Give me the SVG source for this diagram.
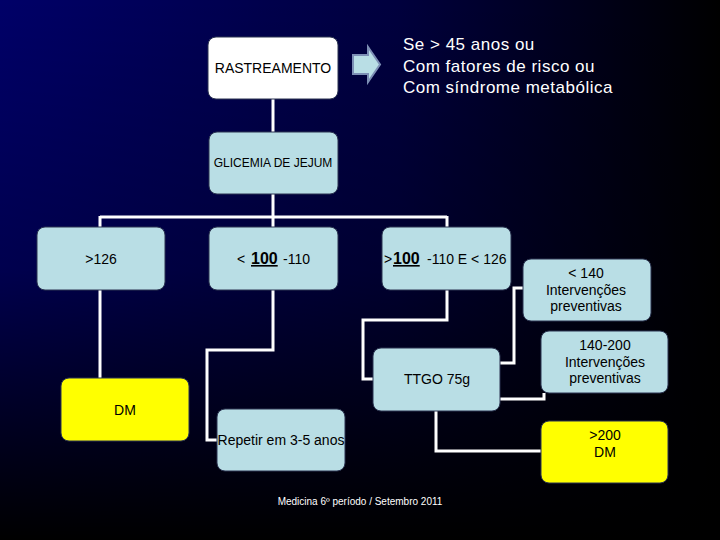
<svg xmlns="http://www.w3.org/2000/svg" width="720" height="540" viewBox="0 0 720 540">
<defs>
<linearGradient id="bgH" x1="0" y1="0" x2="1" y2="0">
<stop offset="0" stop-color="#000068"/>
<stop offset="0.55" stop-color="#00003e"/>
<stop offset="1" stop-color="#000000"/>
</linearGradient>
<linearGradient id="bgV" x1="0" y1="0" x2="0" y2="1">
<stop offset="0" stop-color="#000000" stop-opacity="0"/>
<stop offset="0.5" stop-color="#000000" stop-opacity="0.25"/>
<stop offset="1" stop-color="#000000" stop-opacity="1"/>
</linearGradient>
<style>
.box{fill:#b9dee5;stroke:#2a3350;stroke-width:1}
.white{fill:#ffffff;stroke:#2a3350;stroke-width:1}
.yel{fill:#ffff00;stroke:#2a3350;stroke-width:1}
.t{font-family:"Liberation Sans",Arial,sans-serif;font-size:14px;fill:#000000}
.c{text-anchor:middle}
.b{font-size:16px;font-weight:bold;text-decoration:underline}
.big{font-family:"Liberation Sans",Arial,sans-serif;font-size:17px;fill:#ffffff;letter-spacing:0.5px}
.foot{font-family:"Liberation Sans",Arial,sans-serif;font-size:10px;fill:#ffffff;text-anchor:middle}
.conn{fill:none;stroke:#ffffff;stroke-width:3;stroke-linejoin:miter}
</style>
</defs>
<rect x="0" y="0" width="720" height="540" fill="url(#bgH)"/>
<rect x="0" y="0" width="720" height="540" fill="url(#bgV)"/>

<g id="connectors">
<path class="conn" d="M273,99 V132"/>
<path class="conn" d="M273,194 V217 M100,217 H447 M100,216 V227 M273,217 V227 M447,216 V227"/>
<path class="conn" d="M100,290 V378"/>
<path class="conn" d="M273,290 V350 H207 V440 H217"/>
<path class="conn" d="M447,290 V320 H363 V379 H373"/>
<path class="conn" d="M500,363 H514 V288 H523"/>
<path class="conn" d="M500,399 H544 V393"/>
<path class="conn" d="M436,411 V451 H541"/>
</g>

<g id="rastreamento">
<rect class="white" x="208" y="37" width="130" height="62" rx="8"/>
<text class="t c" x="273" y="73">RASTREAMENTO</text>
</g>

<g id="arrow">
<polygon points="353,55 368,55 368,47 380,64.5 368,82 368,74 353,74" fill="#b9dee5" stroke="#7d8fb5" stroke-width="2"/>
</g>

<g id="criteria">
<text class="big" x="403" y="50">Se &gt; 45 anos ou</text>
<text class="big" x="403" y="71.5">Com fatores de risco ou</text>
<text class="big" x="403" y="93">Com síndrome metabólica</text>
</g>

<g id="glicemia">
<rect class="box" x="209" y="132" width="129" height="62" rx="8"/>
<text class="t c" x="273" y="167" style="font-size:12px">GLICEMIA DE JEJUM</text>
</g>

<g id="gt126">
<rect class="box" x="37" y="227" width="128" height="63" rx="8"/>
<text class="t c" x="101" y="264">&gt;126</text>
</g>

<g id="lt100">
<rect class="box" x="209" y="227" width="129" height="63" rx="8"/>
<text class="t" x="237" y="264">&lt;<tspan x="251" class="b">100</tspan><tspan x="283">-110</tspan></text>
</g>

<g id="gt100">
<rect class="box" x="382" y="227" width="129" height="63" rx="8"/>
<text class="t" x="384" y="264">&gt;<tspan x="393" class="b">100</tspan><tspan x="427">-110 E &lt; 126</tspan></text>
</g>

<g id="dm">
<rect class="yel" x="61" y="378" width="128" height="63" rx="8"/>
<text class="t c" x="125" y="415">DM</text>
</g>

<g id="repetir">
<rect class="box" x="217" y="409" width="128" height="62" rx="8"/>
<text class="t c" x="281" y="445">Repetir em 3-5 anos</text>
</g>

<g id="ttgo">
<rect class="box" x="373" y="348" width="127" height="63" rx="8"/>
<text class="t c" x="437" y="384">TTGO 75g</text>
</g>

<g id="lt140">
<rect class="box" x="523" y="259" width="128" height="62" rx="8"/>
<text class="t c" x="586" y="278">&lt; 140</text>
<text class="t c" x="586" y="295">Intervenções</text>
<text class="t c" x="586" y="311">preventivas</text>
</g>

<g id="r140200">
<rect class="box" x="541" y="331" width="127" height="62" rx="8"/>
<text class="t c" x="605" y="350">140-200</text>
<text class="t c" x="605" y="367">Intervenções</text>
<text class="t c" x="605" y="383">preventivas</text>
</g>

<g id="gt200">
<rect class="yel" x="541" y="421" width="127" height="62" rx="8"/>
<text class="t c" x="605" y="440">&gt;200</text>
<text class="t c" x="605" y="457">DM</text>
</g>

<text class="foot" x="360" y="505">Medicina 6º período / Setembro 2011</text>
</svg>
